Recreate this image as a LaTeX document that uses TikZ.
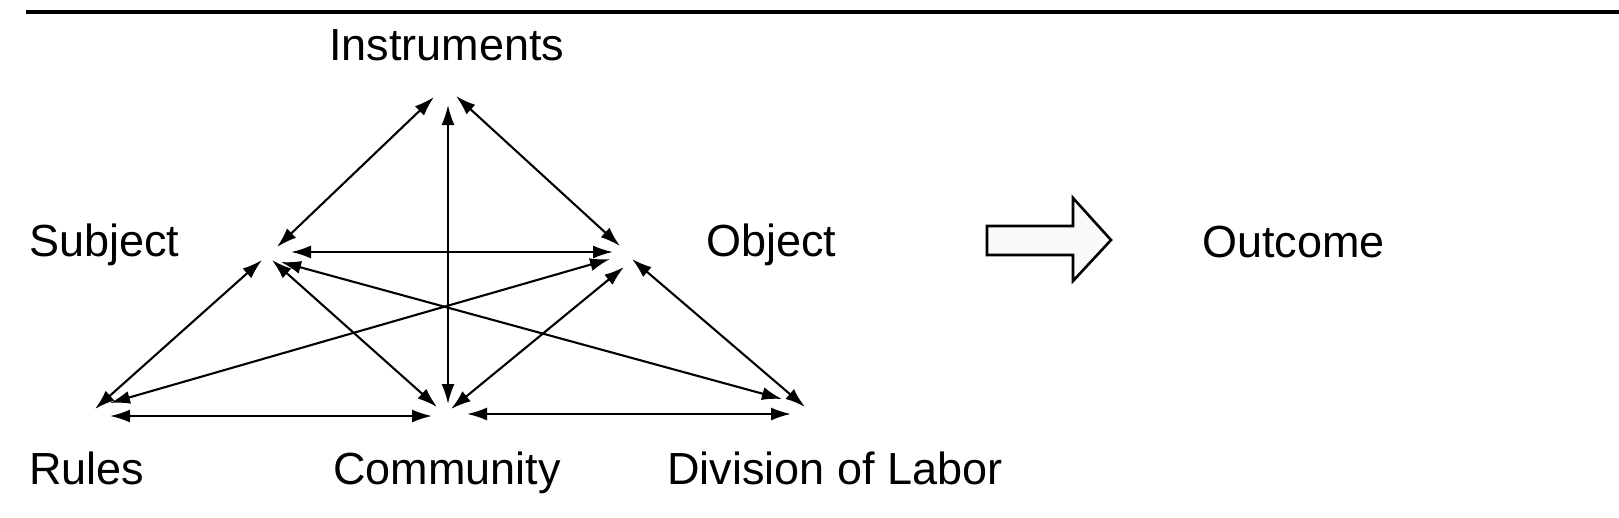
\documentclass[tikz,border=0pt]{standalone}
\usepackage{fontspec}
\setmainfont{Liberation Sans}
\usetikzlibrary{arrows.meta}
\begin{document}
\begin{tikzpicture}[x=1pt,y=-1pt,
  lbl/.style={anchor=base west,inner sep=0pt,font=\fontsize{45}{50}\selectfont},
  link/.style={line width=2.1pt,{Latex[length=20pt,width=13pt]}-{Latex[length=20pt,width=13pt]}}]
\useasboundingbox (0,0) rectangle (1619,517);
\draw[line width=4pt] (26,11.5) -- (1619,11.5);
\node[lbl] (tI) at (329,60) {Instruments};
\node[lbl] (tS) at (29,256) {Subject};
\node[lbl] (tO) at (706,256) {Object};
\node[lbl] (tOut) at (1202,257) {Outcome};
\node[lbl] (tR) at (29,484) {Rules};
\node[lbl] (tC) at (333,484) {Community};
\node[lbl] (tD) at (667,484) {Division of Labor};
% end points
\coordinate (I1) at (434,97); \coordinate (I2) at (448,105); \coordinate (I3) at (456,96);
\coordinate (S1) at (277,247); \coordinate (S2) at (291,252); \coordinate (S3) at (262,260);
\coordinate (S4) at (272,260); \coordinate (S5) at (281,262);
\coordinate (O1) at (620,246); \coordinate (O2) at (613,252); \coordinate (O3) at (610,259);
\coordinate (O4) at (624,267); \coordinate (O5) at (632,259);
\coordinate (R1) at (95,409); \coordinate (R2) at (110,403); \coordinate (R3) at (110,416);
\coordinate (C1) at (448,404); \coordinate (C2) at (437,407); \coordinate (C3) at (451,409);
\coordinate (C4) at (432,416); \coordinate (C5) at (467,414);
\coordinate (D1) at (782,399); \coordinate (D2) at (805,407); \coordinate (D3) at (791,414);
\draw[link] (I1) -- (S1);
\draw[link] (I3) -- (O1);
\draw[link] (I2) -- (C1);
\draw[link] (S2) -- (O2);
\draw[link] (S3) -- (R1);
\draw[link] (S4) -- (C2);
\draw[link] (S5) -- (D1);
\draw[link] (O3) -- (R2);
\draw[link] (O4) -- (C3);
\draw[link] (O5) -- (D2);
\draw[link] (R3) -- (C4);
\draw[link] (C5) -- (D3);
% block arrow
\draw[line width=2.6pt,fill=black!2,line join=miter] (987,226) -- (1073,226) -- (1073,198) -- (1111,240)
  -- (1073,281) -- (1073,255) -- (987,255) -- cycle;
\end{tikzpicture}
\end{document}
